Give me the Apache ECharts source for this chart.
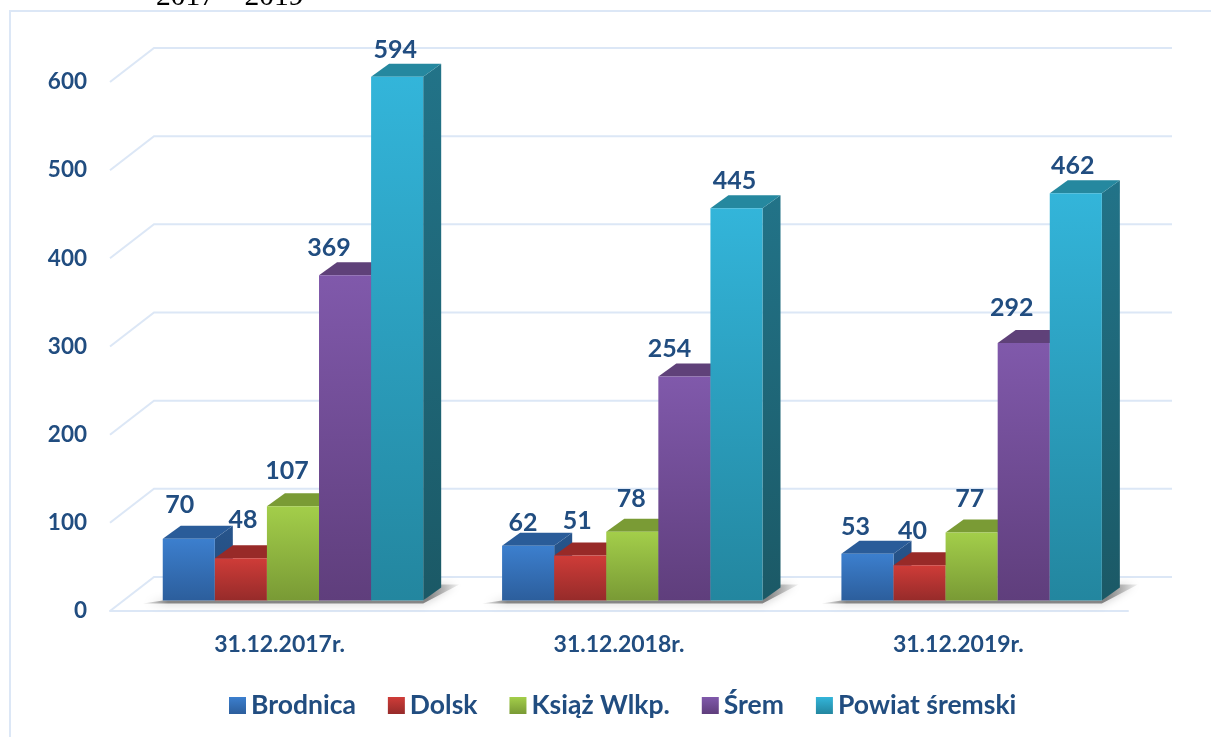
<!DOCTYPE html>
<html>
<head>
<meta charset="utf-8">
<style>html,body{margin:0;padding:0;background:#fff}#c{width:1211px;height:737px}</style>
<script src="https://cdn.jsdelivr.net/npm/echarts@6/dist/echarts.min.js"></script>
</head>
<body>
<div id="c"></div>
<script>
const categories = ['31.12.2017r.', '31.12.2018r.', '31.12.2019r.'];
const yTicks = [0, 100, 200, 300, 400, 500, 600];
const brodnica = [70, 62, 53];
const dolsk = [48, 51, 40];
const ksiaz = [107, 78, 77];
const srem = [369, 254, 292];
const powiat = [594, 445, 462];
const seriesNames = ['Brodnica', 'Dolsk', 'Książ Wlkp.', 'Śrem', 'Powiat śremski'];
const seriesValues = [brodnica, dolsk, ksiaz, srem, powiat];

// Layout and styling, separate from the data
const INK = '#214D80';
const FONT = 'Lato, "Open Sans", sans-serif';
const GRID_LINE = '#DCE7F6';
const palette = [
  {front: ['#3C7FCE', '#2C5E9C'], top: '#2A5C99', side: ['#27558C', '#234B7C']},
  {front: ['#CF3C38', '#962B2A'], top: '#982A28', side: ['#8E2827', '#7A2221']},
  {front: ['#A3CE4A', '#799A35'], top: '#7A9B35', side: ['#74932F', '#64802A']},
  {front: ['#8059AB', '#5F3E7C'], top: '#5F4179', side: ['#5C3E78', '#4E3466']},
  {front: ['#33B5DA', '#23869F'], top: '#25889F', side: ['#227388', '#1B5966']}
];
// Hand-placed data labels of the reference: [dx from bar centre, dy from bar top]
const labelNudge = [
  [[-9, -35], [-5, -24], [-12, -28]],
  [[2, -39], [-3, -36], [-7, -35]],
  [[-6, -36], [-1, -34], [-2, -35]],
  [[-16, -28], [-15, -29], [-12, -36]],
  [[-2, -28], [-2, -28], [-3, -28]]
];
const WALL = {dx: 44, dy: -34};
const BAR = {dx: 18, dy: -13, lift: 10.5, shift: 13.3, widthRatio: 0.1535};

function vgrad(c) {
  return {type: 'linear', x: 0, y: 0, x2: 0, y2: 1,
    colorStops: [{offset: 0, color: c[0]}, {offset: 1, color: c[1]}]};
}

function wallItem(params, api) {
  const cs = params.coordSys;
  const y = api.coord([0, api.value(0)])[1];
  const x0 = cs.x, x1 = cs.x + cs.width;
  return {type: 'polyline', silent: true,
    shape: {points: [[x0, y], [x0 + WALL.dx, y + WALL.dy], [x1 + WALL.dx, y + WALL.dy]]},
    style: {stroke: GRID_LINE, lineWidth: 2, fill: null}};
}

function shadowItem(params, api) {
  const c = api.coord([api.value(0), 0]);
  const w = api.size([1, 0])[0] * BAR.widthRatio;
  const left = c[0] + BAR.shift - 2.5 * w;
  const right = left + 5 * w;
  const base = c[1] - BAR.lift;
  return {type: 'polygon', silent: true,
    shape: {points: [[left - 20, base + 3], [right, base + 3], [right + 36, base - 16],
      [right + 18, base - 16], [right, base], [left, base]]},
    style: {
      fill: {type: 'linear', x: 0, y: 0, x2: 1, y2: 0, colorStops: [
        {offset: 0, color: 'rgba(120,120,120,0.1)'},
        {offset: 0.08, color: 'rgba(100,100,100,0.75)'},
        {offset: 0.9, color: 'rgba(100,100,100,0.75)'},
        {offset: 1, color: 'rgba(130,130,130,0.1)'}]},
      shadowBlur: 8, shadowColor: 'rgba(110,110,110,0.7)'
    }};
}

function barRenderer(si) {
  return function (params, api) {
    const ci = api.value(0), v = api.value(1);
    const c = api.coord([ci, v]);
    const zero = api.coord([ci, 0]);
    const w = api.size([1, 0])[0] * BAR.widthRatio;
    const x0 = c[0] + BAR.shift - 2.5 * w + si * w;
    const x1 = x0 + w;
    const yt = c[1] - BAR.lift;
    const yb = zero[1] - BAR.lift;
    const p = palette[si];
    const n = labelNudge[si][ci];
    return {type: 'group', children: [
      {type: 'polygon', shape: {points: [[x1, yt], [x1 + BAR.dx, yt + BAR.dy], [x1 + BAR.dx, yb + BAR.dy], [x1, yb]]},
        style: {fill: vgrad(p.side)}},
      {type: 'polygon', shape: {points: [[x0, yt], [x0 + BAR.dx, yt + BAR.dy], [x1 + BAR.dx, yt + BAR.dy], [x1, yt]]},
        style: {fill: p.top}},
      {type: 'rect', shape: {x: x0, y: yt, width: w, height: yb - yt},
        style: {fill: vgrad(p.front)}},
      {type: 'text', z2: 50, style: {text: String(v), x: x0 + w / 2 + n[0], y: yt + n[1] + 1,
        fill: INK, font: 'bold 25px ' + FONT, align: 'center', verticalAlign: 'middle'}}
    ]};
  };
}

const option = {
  animation: false,
  backgroundColor: '#fff',
  textStyle: {fontFamily: FONT},
  grid: {left: 110, top: 82, width: 1018, height: 529},
  xAxis: {
    type: 'category', data: categories,
    axisLine: {show: true, lineStyle: {color: GRID_LINE, width: 2}},
    axisTick: {show: false}, splitLine: {show: false},
    axisLabel: {color: INK, fontFamily: FONT, fontWeight: 'bold', fontSize: 23, margin: 22}
  },
  yAxis: {
    type: 'value', min: 0, max: 600, interval: 100,
    axisLine: {show: false}, axisTick: {show: false}, splitLine: {show: false},
    axisLabel: {color: INK, fontFamily: FONT, fontWeight: 'bold', fontSize: 22.5, margin: 23, padding: [4, 0, 0, 0]}
  },
  legend: {
    left: 224, top: 687, itemWidth: 17, itemHeight: 17, itemGap: 32,
    icon: 'rect', data: seriesNames, selectedMode: false,
    textStyle: {color: INK, fontFamily: FONT, fontWeight: 'bold', fontSize: 26.5}
  },
  graphic: [
    {type: 'rect', silent: true, z: -10, shape: {x: 10, y: 11, width: 1300, height: 800},
      style: {fill: 'none', stroke: GRID_LINE, lineWidth: 2}},
    {type: 'text', silent: true, z: 100, x: 156, y: -18, style: {text: '2017 – 2019',
      fill: '#000', fontFamily: 'Liberation Serif', fontSize: 29.5}}
  ],
  series: [
    {type: 'custom', name: 'wall', coordinateSystem: 'cartesian2d', silent: true, z: 1,
      clip: false, renderItem: wallItem, data: yTicks.map(t => [t, 0]),
      encode: {x: 1, y: 0}},
    {type: 'custom', name: 'floorShadow', coordinateSystem: 'cartesian2d', silent: true, z: 2,
      clip: false, renderItem: shadowItem, data: categories.map((c, i) => [i, 0])}
  ].concat(seriesNames.map((name, si) => ({
    type: 'custom', name: name, coordinateSystem: 'cartesian2d', z: 3 + si, clip: false,
    itemStyle: {color: vgrad(palette[si].front)},
    encode: {x: 0, y: 1},
    renderItem: barRenderer(si),
    data: seriesValues[si].map((v, i) => [i, v])
  })))
};
const chart = echarts.init(document.getElementById('c'), null, {renderer: 'canvas'});
chart.setOption(option);
</script>
</body>
</html>
